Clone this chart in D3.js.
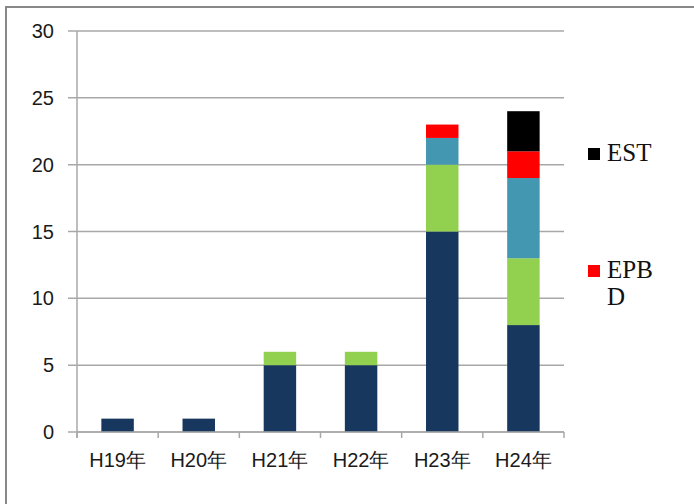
<!DOCTYPE html>
<html>
<head>
  <meta charset="utf-8">
  <title>Stacked bars H19-H24</title>
  <script src="https://cdnjs.cloudflare.com/ajax/libs/d3/7.8.5/d3.min.js"></script>
  <style>
    body {
      margin: 0;
      background: #fff;
    }
    .tick-label {
      font-family: "Liberation Sans", Arial, sans-serif;
      font-size: 20px;
      fill: #1a1a1a;
    }
    .legend-label {
      font-family: "Liberation Serif", "Times New Roman", serif;
      font-size: 25px;
      fill: #111;
    }
  </style>
</head>
<body>
  <div id="chart"></div>
  <script>
    // Chart data
    const categories = ["H19年", "H20年", "H21年", "H22年", "H23年", "H24年"];
    const seriesNames = ["s1", "s2", "s3", "EPBD", "EST"];
    const seriesColors = ["#17375E", "#92D050", "#4397B0", "#FF0000", "#000000"];
    const navyValues  = [1, 1, 5, 5, 15, 8];
    const greenValues = [0, 0, 1, 1, 5, 5];
    const tealValues  = [0, 0, 0, 0, 2, 6];
    const epbdValues  = [0, 0, 0, 0, 1, 2];
    const estValues   = [0, 0, 0, 0, 0, 3];
    const yTicks = [0, 5, 10, 15, 20, 25, 30];
    const legendEntries = [
      { name: "EST", lines: ["EST"], color: "#000000" },
      { name: "EPBD", lines: ["EPB", "D"], color: "#FF0000" }
    ];

    const width = 694;
    const height = 504;

    // Build rows for d3.stack
    const allValues = [navyValues, greenValues, tealValues, epbdValues, estValues];
    const rows = categories.map((c, i) => {
      const row = { cat: c };
      seriesNames.forEach((s, j) => { row[s] = allValues[j][i]; });
      return row;
    });
    const stacked = d3.stack().keys(seriesNames)(rows);

    const svg = d3.select("#chart")
      .append("svg")
      .attr("width", width)
      .attr("height", height);

    // Outer frame (only top and left visible in the view)
    svg.append("rect")
      .attr("x", 6)
      .attr("y", 7)
      .attr("width", 720)
      .attr("height", 540)
      .attr("fill", "none")
      .attr("stroke", "#888")
      .attr("stroke-width", 2);

    const x = d3.scaleBand()
      .domain(categories)
      .range([77, 564])
      .paddingInner(0.6)
      .paddingOuter(0.3);

    const y = d3.scaleLinear()
      .domain([0, 30])
      .range([432, 31]);

    // Gridlines with left ticks
    svg.append("g")
      .selectAll("line")
      .data(yTicks)
      .enter().append("line")
      .attr("x1", 68)
      .attr("x2", 564)
      .attr("y1", d => y(d))
      .attr("y2", d => y(d))
      .attr("stroke", "#A8A8A8")
      .attr("stroke-width", 1.5);

    // y tick labels
    svg.append("g")
      .selectAll("text")
      .data(yTicks)
      .enter().append("text")
      .attr("class", "tick-label")
      .attr("x", 54)
      .attr("y", d => y(d))
      .attr("dy", "0.35em")
      .attr("text-anchor", "end")
      .text(d => d);

    // Bars
    svg.append("g")
      .selectAll("g")
      .data(stacked)
      .enter().append("g")
      .attr("fill", (d, i) => seriesColors[i])
      .selectAll("rect")
      .data(d => d.filter(p => p[1] > p[0]))
      .enter().append("rect")
      .attr("x", d => x(d.data.cat))
      .attr("y", d => y(d[1]))
      .attr("width", x.bandwidth())
      .attr("height", d => y(d[0]) - y(d[1]));

    // y axis line
    svg.append("line")
      .attr("x1", 77).attr("x2", 77)
      .attr("y1", y(30)).attr("y2", 438)
      .attr("stroke", "#A8A8A8")
      .attr("stroke-width", 1.5);

    // x axis line and category boundary ticks
    svg.append("line")
      .attr("x1", 77).attr("x2", 564)
      .attr("y1", y(0)).attr("y2", y(0))
      .attr("stroke", "#A8A8A8")
      .attr("stroke-width", 1.5);

    const bounds = d3.range(categories.length + 1).map(i => x.range()[0] + i * x.step());
    svg.append("g")
      .selectAll("line")
      .data(bounds)
      .enter().append("line")
      .attr("x1", d => d).attr("x2", d => d)
      .attr("y1", y(0)).attr("y2", 438)
      .attr("stroke", "#A8A8A8")
      .attr("stroke-width", 1.5);

    // x labels
    svg.append("g")
      .selectAll("text")
      .data(categories)
      .enter().append("text")
      .attr("class", "tick-label")
      .attr("x", d => x(d) + x.bandwidth() / 2)
      .attr("y", 467)
      .attr("text-anchor", "middle")
      .text(d => d);

    // Legend
    const legendY = [161, 278];
    const legend = svg.append("g")
      .selectAll("g")
      .data(legendEntries)
      .enter().append("g")
      .attr("transform", (d, i) => `translate(588,${legendY[i]})`);

    legend.append("rect")
      .attr("x", 0)
      .attr("y", -13)
      .attr("width", 12)
      .attr("height", 12)
      .attr("fill", d => d.color);

    legend.append("text")
      .attr("class", "legend-label")
      .attr("x", 19)
      .selectAll("tspan")
      .data(d => d.lines)
      .enter().append("tspan")
      .attr("x", 19)
      .attr("dy", (d, i) => i === 0 ? 0 : 27)
      .text(d => d);
  </script>
</body>
</html>
